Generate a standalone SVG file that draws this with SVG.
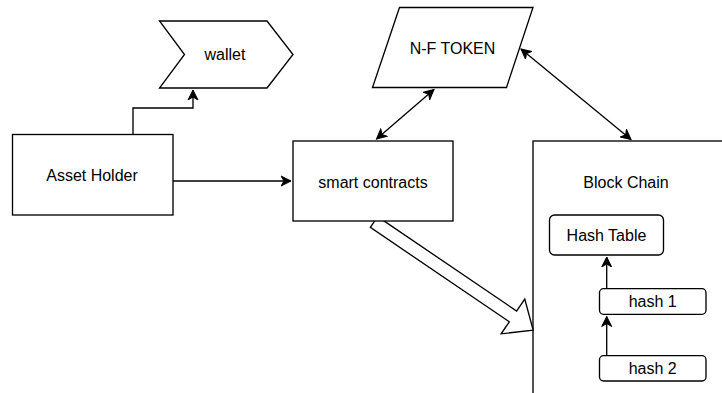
<svg xmlns="http://www.w3.org/2000/svg" width="722" height="393" viewBox="0 0 722 393">
<style>
.s{fill:#fff;stroke:#000;stroke-width:1.33}
.t{font-family:"Liberation Sans",Arial,sans-serif;font-size:16px;fill:#000;text-anchor:middle}
.c{fill:none;stroke:#000;stroke-width:1.33}
</style>
<defs>
<marker id="a" markerUnits="userSpaceOnUse" markerWidth="12" markerHeight="12" viewBox="-10 -6 12 12" refX="0" refY="0" orient="auto-start-reverse">
<path d="M0,0 L-10,-5 L-7,0 L-10,5 Z" fill="#000" stroke="#000" stroke-width="1"/>
</marker>
</defs>
<g id="block-chain">
<rect class="s" x="533" y="141" width="220" height="270"/>
<text class="t" x="626" y="187.5">Block Chain</text>
</g>
<g id="flat-arrow">
<path class="s" transform="translate(374,222) rotate(34.2)" d="M0,-6.5 L168,-6.5 L168,-21 L192.5,0 L168,21 L168,6.5 L0,6.5 Z"/>
</g>
<g id="wallet">
<polygon class="s" points="159.5,21 267,21 293,54.5 267,88 159.5,88 184.5,54.5"/>
<text class="t" x="225" y="60">wallet</text>
</g>
<g id="nf-token">
<polygon class="s" points="399.5,7.5 533,7.5 506.5,87.5 372.5,87.5"/>
<text class="t" x="452.5" y="54">N-F TOKEN</text>
</g>
<g id="asset-holder">
<rect class="s" x="12.5" y="134.5" width="160.5" height="80.5"/>
<text class="t" x="92" y="180.5">Asset Holder</text>
</g>
<g id="smart-contracts">
<rect class="s" x="293" y="141" width="160" height="80"/>
<text class="t" x="373" y="187.5">smart contracts</text>
</g>
<g id="hash-table">
<rect class="s" x="549.5" y="215" width="114" height="40" rx="5"/>
<text class="t" x="606.5" y="241">Hash Table</text>
</g>
<g id="hash1">
<rect class="s" x="599.5" y="288.7" width="106.5" height="25.6" rx="4"/>
<text class="t" x="652.7" y="307.3">hash 1</text>
</g>
<g id="hash2">
<rect class="s" x="599.5" y="355.7" width="106.5" height="25.3" rx="4"/>
<text class="t" x="652.7" y="374">hash 2</text>
</g>
<g id="connectors">
<path class="c" d="M133,134 V108 H193 V90" marker-end="url(#a)"/>
<path class="c" d="M173,181 H291" marker-end="url(#a)"/>
<path class="c" d="M376.5,139 L434,89.5" marker-start="url(#a)" marker-end="url(#a)"/>
<path class="c" d="M521,49 L631,139.5" marker-start="url(#a)" marker-end="url(#a)"/>
<path class="c" d="M606.7,288 V257" marker-end="url(#a)"/>
<path class="c" d="M606.7,355 V316.5" marker-end="url(#a)"/>
</g>
</svg>
